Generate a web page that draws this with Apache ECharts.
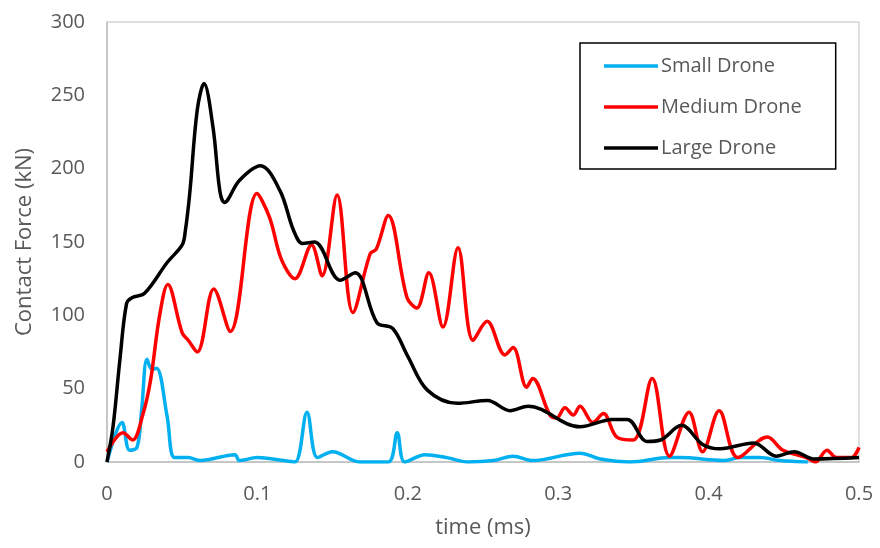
<!DOCTYPE html>
<html>
<head>
<meta charset="utf-8">
<script src="https://cdn.jsdelivr.net/npm/echarts@6/dist/echarts.min.js"></script>
<style>
  html, body { margin: 0; padding: 0; background: #fff; }
  #main { width: 880px; height: 548px; }
</style>
</head>
<body>
<div id="main"></div>
<script>
// time (ms) / force (kN)
var smallT = [0, 0.01, 0.015, 0.02, 0.023, 0.0266, 0.03, 0.033, 0.04, 0.045, 0.054, 0.062, 0.085, 0.088, 0.1, 0.117, 0.125, 0.133, 0.14, 0.15, 0.168, 0.187, 0.193, 0.198, 0.2115, 0.226, 0.24, 0.257, 0.27, 0.283, 0.3145, 0.328, 0.348, 0.374, 0.381, 0.41, 0.421, 0.434, 0.4475, 0.466];
var smallV = [0, 27, 8, 10, 35, 70, 63, 64, 31, 3, 3, 1, 5, 1, 3, 1, 0, 34, 3, 7, 0, 0, 20, 0, 5, 3, 0, 1, 4, 1, 6, 2, 0, 3, 3, 1, 3, 3, 1, 0];

var mediumT = [0, 0.0106, 0.017, 0.024, 0.029, 0.035, 0.0404, 0.05, 0.054, 0.06, 0.071, 0.082, 0.0997, 0.108, 0.116, 0.125, 0.136, 0.143, 0.153, 0.1635, 0.175, 0.179, 0.187, 0.1995, 0.206, 0.214, 0.2234, 0.2334, 0.2434, 0.2527, 0.2646, 0.27, 0.279, 0.283, 0.2945, 0.299, 0.3045, 0.31, 0.3145, 0.323, 0.33, 0.339, 0.35, 0.3625, 0.374, 0.387, 0.396, 0.407, 0.4195, 0.439, 0.4495, 0.465, 0.471, 0.4787, 0.485, 0.495, 0.5];
var mediumV = [7, 20, 15, 33, 56, 100, 121, 88, 83, 75, 118, 89, 183, 167, 138, 125, 148, 127, 182, 102, 142, 145, 168, 112, 105, 129, 92, 146, 83, 96, 73, 78, 51, 57, 32, 30, 37, 32, 38, 27, 33, 17, 15, 57, 4, 34, 7, 35, 3, 17, 8, 3, 0, 8, 3, 3, 10];

var largeT = [0, 0.004, 0.0086, 0.013, 0.0166, 0.025, 0.04, 0.05, 0.052, 0.055, 0.06, 0.0645, 0.0705, 0.075, 0.078, 0.088, 0.102, 0.115, 0.124, 0.13, 0.138, 0.155, 0.165, 0.1795, 0.19, 0.2, 0.213, 0.233, 0.253, 0.268, 0.28, 0.3145, 0.336, 0.346, 0.359, 0.368, 0.382, 0.396, 0.4075, 0.43, 0.445, 0.457, 0.47, 0.5];
var largeV = [0, 24, 70, 108, 112, 115, 136, 148, 157, 183, 240, 258, 228, 185, 177, 192, 202, 185, 158, 149, 150, 124, 129, 95, 91, 72, 49, 40, 42, 35, 38, 24, 29, 29, 14, 15, 25, 12, 9, 13, 4, 7, 2, 3];

var xTicks = [0, 0.1, 0.2, 0.3, 0.4, 0.5];
var yTicks = [0, 50, 100, 150, 200, 250, 300];

function pairs(t, v) {
  return t.map(function (x, i) { return [x, v[i]]; });
}

var font = 'Open Sans';
var myChart = echarts.init(document.getElementById('main'));
var option = {
  backgroundColor: '#fff',
  animation: false,
  textStyle: { fontFamily: font },
  grid: {
    left: 107, right: 21, top: 22, bottom: 86,
    show: true, borderColor: '#bfbfbf', borderWidth: 1
  },
  legend: {
    orient: 'vertical',
    left: 580, top: 43,
    padding: [13, 34, 11, 24],
    icon: 'rect',
    itemWidth: 54, itemHeight: 3.5, itemGap: 21,
    borderColor: '#000', borderWidth: 1.5,
    textStyle: { fontFamily: font, fontSize: 20, color: '#595959', padding: [0, 0, 0, -2] },
    data: ['Small Drone', 'Medium Drone', 'Large Drone']
  },
  xAxis: {
    type: 'value',
    min: 0, max: 0.5, interval: 0.1,
    name: 'time (ms)',
    nameLocation: 'middle', nameGap: 55,
    nameTextStyle: { fontFamily: font, fontSize: 22, color: '#595959' },
    axisLine: { lineStyle: { color: '#bfbfbf', width: 1.5 } },
    axisTick: { show: false },
    splitLine: { show: false },
    axisLabel: {
      fontFamily: font, fontSize: 20, color: '#595959', margin: 22,
      formatter: function (v) { return xTicks.indexOf(+v.toFixed(1)) >= 0 ? String(+v.toFixed(1)) : ''; }
    }
  },
  yAxis: {
    type: 'value',
    min: 0, max: 300, interval: 50,
    name: 'Contact Force (kN)',
    nameLocation: 'middle', nameGap: 71,
    nameTextStyle: { fontFamily: font, fontSize: 22, color: '#595959' },
    axisLine: { show: true, lineStyle: { color: '#bfbfbf', width: 1.5 } },
    axisTick: { show: false },
    splitLine: { show: false },
    axisLabel: {
      fontFamily: font, fontSize: 20, color: '#595959', margin: 22,
      formatter: function (v) { return yTicks.indexOf(v) >= 0 ? String(v) : ''; }
    }
  },
  series: [
    {
      name: 'Small Drone', type: 'line', smooth: 0.35, symbol: 'none',
      lineStyle: { color: '#00b0f0', width: 3.5 }, itemStyle: { color: '#00b0f0' },
      data: pairs(smallT, smallV)
    },
    {
      name: 'Medium Drone', type: 'line', smooth: 0.35, symbol: 'none',
      lineStyle: { color: '#ff0000', width: 3.5 }, itemStyle: { color: '#ff0000' },
      data: pairs(mediumT, mediumV)
    },
    {
      name: 'Large Drone', type: 'line', smooth: 0.35, symbol: 'none',
      lineStyle: { color: '#000000', width: 3.5 }, itemStyle: { color: '#000000' },
      data: pairs(largeT, largeV)
    }
  ]
};
myChart.setOption(option);
</script>
</body>
</html>
